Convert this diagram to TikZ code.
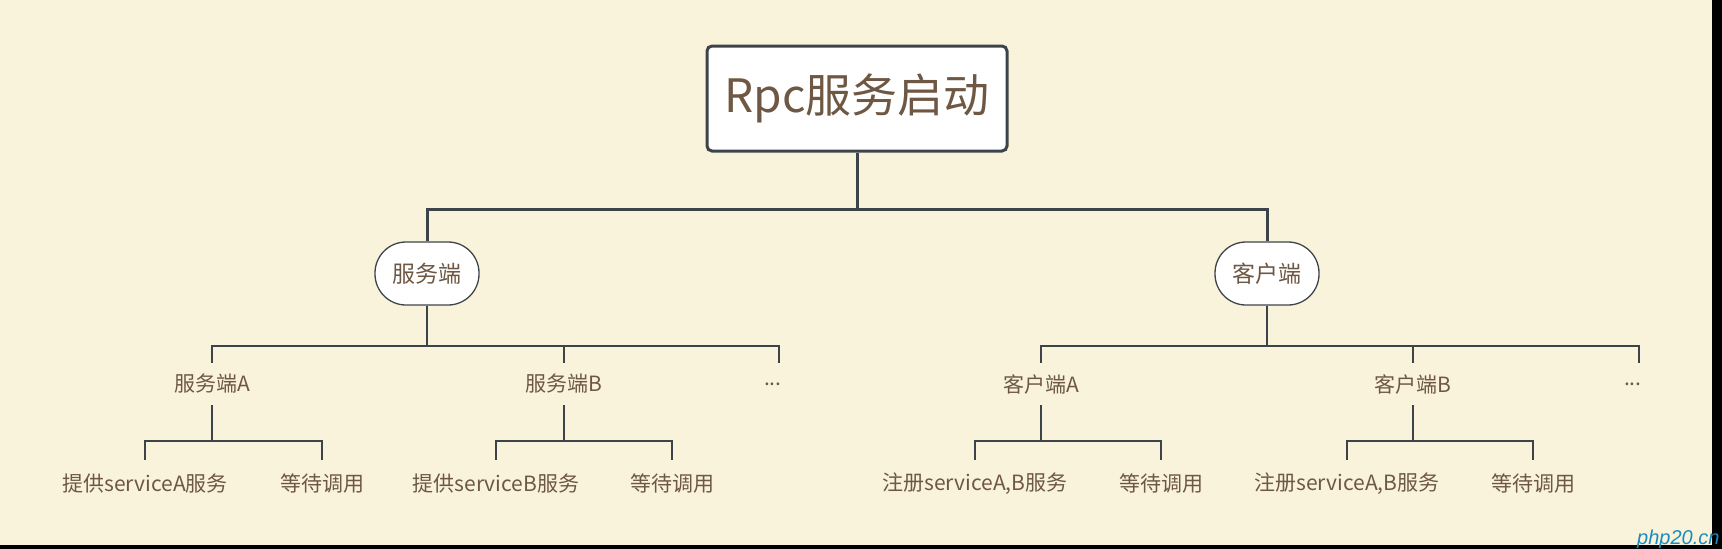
\documentclass[tikz,border=0pt]{standalone}
\usepackage{fontspec}
\setmainfont{Noto Sans CJK SC}
\newfontfamily\wmfont{Liberation Sans}
\definecolor{bgc}{RGB}{250,243,220}
\definecolor{txt}{RGB}{110,88,68}
\definecolor{ln}{RGB}{60,68,74}
\definecolor{wm}{RGB}{25,140,190}
\tikzset{
  rootbox/.style={draw=ln, line width=3pt, fill=white, rounded corners=5pt, minimum width=300pt, minimum height=105pt, inner sep=0pt, text=txt, font=\fontsize{46}{50}\selectfont},
  pill/.style={draw=ln, line width=1.3pt, fill=white, rounded corners=31pt, minimum width=104pt, minimum height=63pt, inner sep=0pt, text=txt, font=\fontsize{23}{26}\selectfont},
  mid/.style={inner sep=0pt, minimum height=42pt, text=txt, font=\fontsize{21}{24}\selectfont},
  leaf/.style={inner sep=0pt, minimum height=48pt, text=txt, font=\fontsize{21}{24}\selectfont},
  dotsnode/.style={mid, text width=30pt, align=left},
  lone/.style={draw=ln, line width=3pt},
  ltwo/.style={draw=ln, line width=2pt},
}
\begin{document}
\begin{tikzpicture}[x=1pt,y=-1pt]
\useasboundingbox (0,0) rectangle (1722,549);
\fill[bgc] (0,0) rectangle (1722,549);

% nodes
\node[rootbox] (root) at (857,98.5) {Rpc服务启动};
\node[pill] (srv) at (427,273.5) {服务端};
\node[pill] (cli) at (1267,273.5) {客户端};

\node[mid] (srvA) at (212,384) {服务端A};
\node[mid] (srvB) at (564,384) {服务端B};
\node[dotsnode] (srvD) at (779,384) {...};
\node[mid] (cliA) at (1041,384) {客户端A};
\node[mid] (cliB) at (1413,384) {客户端B};
\node[dotsnode] (cliD) at (1639,384) {...};

\node[leaf] (sA1) at (145,484) {提供serviceA服务};
\node[leaf] (sA2) at (322,484) {等待调用};
\node[leaf] (sB1) at (496,484) {提供serviceB服务};
\node[leaf] (sB2) at (672,484) {等待调用};
\node[leaf] (cA1) at (975,484) {注册serviceA,B服务};
\node[leaf] (cA2) at (1161,484) {等待调用};
\node[leaf] (cB1) at (1347,484) {注册serviceA,B服务};
\node[leaf] (cB2) at (1533,484) {等待调用};

% junctions
\coordinate (j0) at (857,209);
\coordinate (j1) at (427,346);
\coordinate (j2) at (1267,346);
\coordinate (k1) at (212,441);
\coordinate (k2) at (564,441);
\coordinate (k3) at (1041,441);
\coordinate (k4) at (1413,441);

% connectors
\draw[lone] (root.south) -- (j0) -| (srv.north);
\draw[lone] (j0) -| (cli.north);

\draw[ltwo] (srv.south) -- (j1) -| (srvA.north);
\draw[ltwo] (j1) -| (srvB.north);
\draw[ltwo] (j1) -| (srvD.north);
\draw[ltwo] (cli.south) -- (j2) -| (cliA.north);
\draw[ltwo] (j2) -| (cliB.north);
\draw[ltwo] (j2) -| (cliD.north);

\draw[ltwo] (srvA.south) -- (k1) -| (sA1.north);
\draw[ltwo] (k1) -| (sA2.north);
\draw[ltwo] (srvB.south) -- (k2) -| (sB1.north);
\draw[ltwo] (k2) -| (sB2.north);
\draw[ltwo] (cliA.south) -- (k3) -| (cA1.north);
\draw[ltwo] (k3) -| (cA2.north);
\draw[ltwo] (cliB.south) -- (k4) -| (cB1.north);
\draw[ltwo] (k4) -| (cB2.north);

% frame strips and watermark
\fill[black] (0,545) rectangle (1722,549);
\fill[black] (1712,0) rectangle (1722,549);
\begin{scope}
\clip (0,0) rectangle (1722,549);
\node[anchor=base west, inner sep=0pt, text=wm, font=\wmfont\itshape\fontsize{20}{22}\selectfont] (wmark) at (1637,544) {php20.cn};
\end{scope}
\end{tikzpicture}
\end{document}
